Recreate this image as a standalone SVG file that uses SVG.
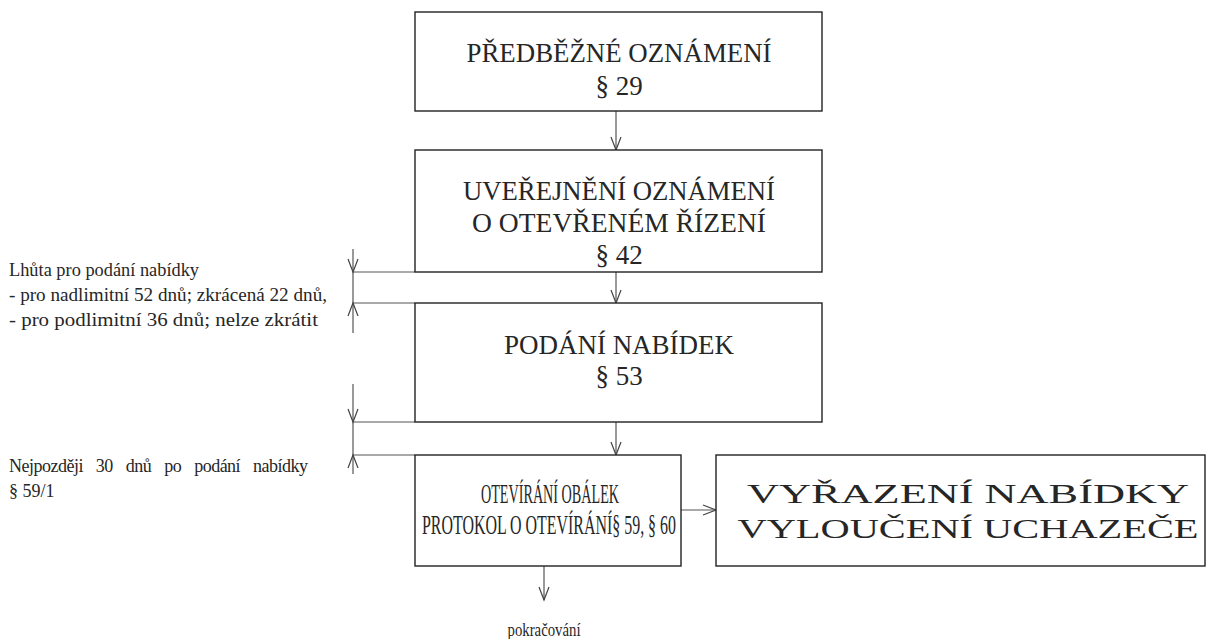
<svg xmlns="http://www.w3.org/2000/svg" width="1208" height="639" viewBox="0 0 1208 639">
<defs>
<style>
.box{fill:#fff;stroke:#222;stroke-width:1.4}
.bt{font-family:"Liberation Serif","DejaVu Serif",serif;font-size:27px;fill:#262626;text-anchor:middle}
.lt{font-family:"Liberation Serif","DejaVu Serif",serif;font-size:18px;fill:#262626}
.ln{fill:none;stroke:#555;stroke-width:1.2}
.ah{fill:none;stroke:#444;stroke-width:1.2}
</style>
</defs>
<rect width="1208" height="639" fill="#fff"/>
<g id="connectors">
<line class="ln" x1="616" y1="111" x2="616" y2="150"/>
<path class="ah" d="M611,137 L616,150 L621,137"/>
<line class="ln" x1="616" y1="272" x2="616" y2="303"/>
<path class="ah" d="M611,290 L616,303 L621,290"/>
<line class="ln" x1="616" y1="422" x2="616" y2="455"/>
<path class="ah" d="M611,442 L616,455 L621,442"/>
<line class="ln" x1="544" y1="566" x2="544" y2="600"/>
<path class="ah" d="M539,587 L544,600 L549,587"/>
<line class="ln" x1="681" y1="510" x2="716" y2="510"/>
<path class="ah" d="M703,505 L716,510 L703,515"/>
<line class="ln" x1="353" y1="249" x2="353" y2="333"/>
<line class="ln" x1="353" y1="272" x2="415" y2="272"/>
<line class="ln" x1="353" y1="303" x2="415" y2="303"/>
<path class="ah" d="M348,259 L353,272 L358,259"/>
<path class="ah" d="M348,316 L353,303 L358,316"/>
<line class="ln" x1="353" y1="384" x2="353" y2="474"/>
<line class="ln" x1="353" y1="422" x2="415" y2="422"/>
<line class="ln" x1="353" y1="455" x2="415" y2="455"/>
<path class="ah" d="M348,409 L353,422 L358,409"/>
<path class="ah" d="M348,468 L353,455 L358,468"/>
</g>
<g id="node-predbezne">
<rect class="box" x="415" y="12" width="407" height="99"/>
<text class="bt" x="619" y="62" textLength="305" lengthAdjust="spacingAndGlyphs">PŘEDBĚŽNÉ OZNÁMENÍ</text>
<text class="bt" x="619" y="95">§ 29</text>
</g>
<g id="node-uverejneni">
<rect class="box" x="415" y="150" width="407" height="122"/>
<text class="bt" x="619" y="200" textLength="312" lengthAdjust="spacingAndGlyphs">UVEŘEJNĚNÍ OZNÁMENÍ</text>
<text class="bt" x="619" y="232" textLength="294" lengthAdjust="spacingAndGlyphs">O OTEVŘENÉM ŘÍZENÍ</text>
<text class="bt" x="619" y="264">§ 42</text>
</g>
<g id="node-podani">
<rect class="box" x="415" y="303" width="407" height="119"/>
<text class="bt" x="619" y="354" textLength="230" lengthAdjust="spacingAndGlyphs">PODÁNÍ NABÍDEK</text>
<text class="bt" x="619" y="385">§ 53</text>
</g>
<g id="node-otevirani">
<rect class="box" x="415" y="455" width="266" height="111"/>
<text class="bt" x="550" y="503" textLength="138" lengthAdjust="spacingAndGlyphs">OTEVÍRÁNÍ OBÁLEK</text>
<text class="bt" x="549" y="534" textLength="254" lengthAdjust="spacingAndGlyphs">PROTOKOL O OTEVÍRÁNÍ§ 59, § 60</text>
</g>
<g id="node-vyrazeni">
<rect class="box" x="716" y="455" width="489" height="111"/>
<text class="bt" x="968" y="503" font-size="24" textLength="442" lengthAdjust="spacingAndGlyphs">VYŘAZENÍ NABÍDKY</text>
<text class="bt" x="968" y="538" font-size="24" textLength="461" lengthAdjust="spacingAndGlyphs">VYLOUČENÍ UCHAZEČE</text>
</g>
<g id="annotations">
<text class="lt" x="9" y="276" textLength="190" lengthAdjust="spacingAndGlyphs">Lhůta pro podání nabídky</text>
<text class="lt" x="9" y="301" textLength="318" lengthAdjust="spacingAndGlyphs">- pro nadlimitní 52 dnů; zkrácená 22 dnů,</text>
<text class="lt" x="9" y="326" textLength="309" lengthAdjust="spacingAndGlyphs">- pro podlimitní 36 dnů; nelze zkrátit</text>
<text class="lt" x="9" y="472" word-spacing="9" textLength="299" lengthAdjust="spacing">Nejpozději 30 dnů po podání nabídky</text>
<text class="lt" x="9" y="497">§ 59/1</text>
<text class="lt" x="544" y="636" font-size="16" text-anchor="middle" textLength="73" lengthAdjust="spacingAndGlyphs">pokračování</text>
</g>
</svg>
